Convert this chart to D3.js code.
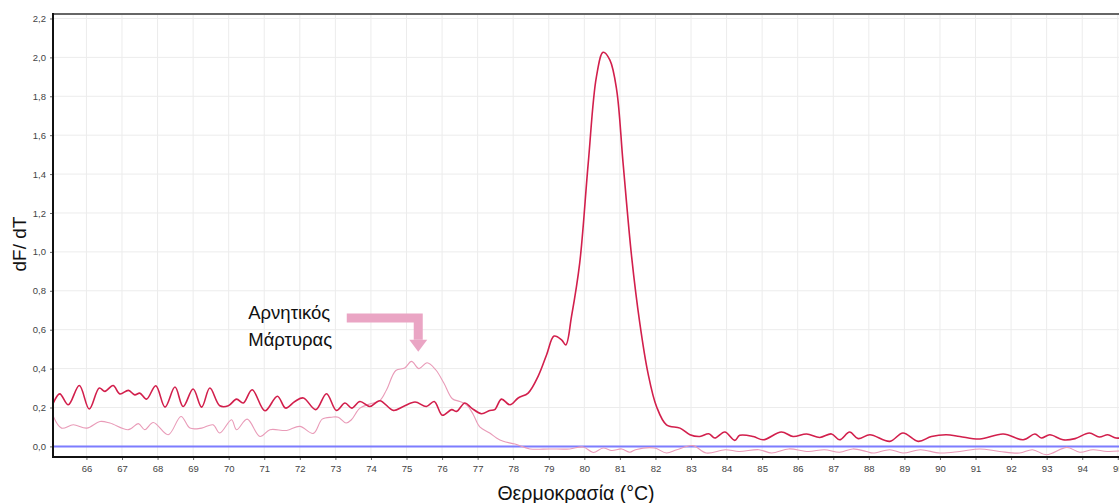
<!DOCTYPE html>
<html>
<head>
<meta charset="utf-8">
<script src="https://cdn.jsdelivr.net/npm/d3@7"></script>
<style>
  html, body { margin: 0; padding: 0; background: #fff; overflow: hidden; }
  text { font-family: "Liberation Sans", Arial, sans-serif; }
</style>
</head>
<body>
<script>
// melt curve: dF/dT vs temperature
const xTicks = d3.range(66, 96);
const yTicks = [0, 0.2, 0.4, 0.6, 0.8, 1.0, 1.2, 1.4, 1.6, 1.8, 2.0, 2.2];

// sample (red)
const sampleT = [65.07,65.25,65.49,65.80,66.08,66.36,66.52,66.75,66.94,67.18,67.36,67.50,67.69,67.95,68.21,68.49,68.72,69.00,69.24,69.47,69.75,69.99,70.22,70.41,70.66,71.02,71.37,71.60,71.86,72.10,72.45,72.75,73.03,73.27,73.46,73.69,73.97,74.25,74.63,74.91,75.24,75.56,75.78,76.01,76.27,76.41,76.64,76.83,77.11,77.34,77.48,77.67,77.91,78.14,78.42,78.70,78.94,79.15,79.36,79.48,79.64,79.87,80.11,80.34,80.53,80.72,80.91,81.09,81.33,81.56,81.79,82.03,82.31,82.69,82.97,83.25,83.50,83.67,83.95,84.23,84.37,84.75,85.03,85.54,85.87,86.25,86.62,86.95,87.18,87.46,87.70,88.03,88.59,88.96,89.39,89.76,90.18,90.56,91.12,91.78,92.34,92.67,92.85,93.09,93.46,93.80,94.20,94.48,94.72,94.95,95.30];
const sampleV = [0.223,0.27,0.214,0.313,0.192,0.30,0.283,0.313,0.27,0.288,0.265,0.274,0.243,0.312,0.202,0.305,0.205,0.295,0.202,0.30,0.209,0.209,0.243,0.223,0.291,0.183,0.258,0.197,0.231,0.249,0.189,0.271,0.185,0.223,0.197,0.231,0.205,0.235,0.185,0.205,0.228,0.205,0.231,0.16,0.189,0.18,0.223,0.197,0.168,0.185,0.189,0.243,0.214,0.249,0.274,0.36,0.471,0.567,0.548,0.522,0.668,0.942,1.456,1.90,2.026,1.986,1.832,1.456,0.976,0.634,0.377,0.205,0.111,0.094,0.06,0.051,0.065,0.043,0.074,0.031,0.057,0.051,0.034,0.074,0.051,0.064,0.046,0.064,0.034,0.074,0.04,0.06,0.026,0.069,0.026,0.051,0.06,0.051,0.038,0.064,0.034,0.064,0.043,0.06,0.034,0.04,0.069,0.048,0.06,0.043,0.05];

// negative control (pink)
const controlT = [65.07,65.30,65.63,66.01,66.38,66.66,67.18,67.46,67.64,67.88,68.30,68.66,68.91,69.24,69.56,69.75,70.08,70.22,70.52,70.88,71.16,71.63,72.00,72.38,72.63,72.90,73.08,73.30,73.45,73.69,74.00,74.25,74.44,74.70,74.95,75.14,75.35,75.58,75.82,76.05,76.29,76.50,76.71,76.88,77.06,77.34,77.53,77.72,78.05,78.47,79.03,79.59,79.97,80.25,80.53,80.77,81.05,81.28,81.44,81.97,82.31,82.60,83.05,83.43,83.96,84.35,84.91,85.27,85.75,86.30,86.75,87.18,87.55,87.93,88.12,88.59,88.96,89.45,90.00,90.56,91.12,91.68,92.24,92.60,93.00,93.57,93.93,94.30,94.70,95.30];
const controlV = [0.154,0.094,0.111,0.094,0.128,0.12,0.086,0.117,0.086,0.123,0.06,0.154,0.094,0.094,0.111,0.069,0.137,0.086,0.14,0.051,0.086,0.082,0.103,0.067,0.14,0.15,0.15,0.12,0.137,0.197,0.22,0.235,0.291,0.39,0.403,0.437,0.40,0.43,0.394,0.326,0.245,0.231,0.21,0.163,0.10,0.069,0.043,0.026,0.012,-0.013,-0.013,-0.013,-0.003,-0.031,-0.008,-0.021,-0.013,-0.03,-0.017,-0.008,-0.034,-0.017,0.004,-0.034,-0.017,-0.026,-0.017,-0.034,-0.013,-0.026,-0.017,-0.03,-0.013,-0.026,-0.034,-0.017,-0.034,-0.017,-0.034,-0.026,-0.013,-0.026,-0.034,-0.017,-0.043,-0.005,-0.03,-0.017,-0.026,-0.02];

const labelLines = ["Αρνητικός", "Μάρτυρας"];
// arrow path in data units: start, corner, tip
const arrowT = [73.32, 75.33, 75.33];
const arrowV = [0.66, 0.66, 0.487];

const width = 1119, height = 503;
const plot = { left: 53, top: 14, right: 1132, bottom: 457 };

const x = d3.scaleLinear().domain([65.06, 95.4]).range([plot.left, plot.right]);
const y = d3.scaleLinear().domain([-0.0545, 2.223]).range([plot.bottom, plot.top]);

const svg = d3.select("body").append("svg")
  .attr("width", width)
  .attr("height", height);

// grid
const grid = svg.append("g");
grid.selectAll("line.v").data(xTicks).enter().append("line")
  .attr("x1", d => x(d)).attr("x2", d => x(d))
  .attr("y1", plot.top).attr("y2", plot.bottom)
  .attr("stroke", "#ececec").attr("stroke-width", 1);
grid.selectAll("line.h").data(yTicks).enter().append("line")
  .attr("x1", plot.left).attr("x2", plot.right)
  .attr("y1", d => y(d)).attr("y2", d => y(d))
  .attr("stroke", "#ececec").attr("stroke-width", 1);

// zero baseline (blue)
svg.append("line")
  .attr("x1", plot.left).attr("x2", plot.right)
  .attr("y1", y(0)).attr("y2", y(0))
  .attr("stroke", "#7d7dff").attr("stroke-width", 2);

const line = d3.line()
  .x(d => x(d[0])).y(d => y(d[1]))
  .curve(d3.curveCatmullRom.alpha(0.5));

svg.append("defs").append("clipPath").attr("id", "clip")
  .append("rect").attr("x", plot.left).attr("y", plot.top)
  .attr("width", plot.right - plot.left).attr("height", plot.bottom - plot.top);

svg.append("path")
  .datum(d3.zip(controlT, controlV))
  .attr("clip-path", "url(#clip)")
  .attr("fill", "none")
  .attr("stroke", "#e99bb8")
  .attr("stroke-width", 1.1)
  .attr("d", line);

svg.append("path")
  .datum(d3.zip(sampleT, sampleV))
  .attr("clip-path", "url(#clip)")
  .attr("fill", "none")
  .attr("stroke", "#d21f4c")
  .attr("stroke-width", 1.6)
  .attr("d", line);

// axes
const yAxis = d3.axisLeft(y).tickValues(yTicks).tickSize(3).tickSizeOuter(0)
  .tickFormat(d => d3.format(".1f")(d).replace(".", ","));
const gy = svg.append("g").attr("transform", `translate(${plot.left},0)`).call(yAxis);
gy.select(".domain").remove();
gy.selectAll("text").attr("font-size", 9.5).attr("fill", "#444").attr("dx", "-1");
gy.selectAll("line").attr("stroke", "#666");

const xAxis = d3.axisBottom(x).tickValues(xTicks).tickSize(3).tickSizeOuter(0)
  .tickFormat(d3.format("d"));
const gx = svg.append("g").attr("transform", `translate(0,${plot.bottom})`).call(xAxis);
gx.select(".domain").remove();
gx.selectAll("text").attr("font-size", 9.5).attr("fill", "#444").attr("dy", "0.9em");
gx.selectAll("line").attr("stroke", "#666");

// frame
svg.append("line").attr("x1", plot.left).attr("x2", plot.right)
  .attr("y1", plot.top).attr("y2", plot.top)
  .attr("stroke", "#666").attr("stroke-width", 2);
svg.append("line").attr("x1", plot.left).attr("x2", plot.left)
  .attr("y1", plot.top - 1).attr("y2", plot.bottom + 1)
  .attr("stroke", "#111").attr("stroke-width", 2);
svg.append("line").attr("x1", plot.left).attr("x2", plot.right)
  .attr("y1", plot.bottom).attr("y2", plot.bottom)
  .attr("stroke", "#111").attr("stroke-width", 2);

// axis titles
svg.append("text")
  .attr("transform", `translate(26,244) rotate(-90)`)
  .attr("text-anchor", "middle")
  .attr("font-size", 19).attr("fill", "#111")
  .text("dF/ dT");

svg.append("text")
  .attr("x", 576).attr("y", 500)
  .attr("text-anchor", "middle")
  .attr("font-size", 19.5).attr("fill", "#111")
  .text("Θερμοκρασία (°C)");

// annotation
const arrowColor = "#eaa5c4";
const pts = d3.zip(arrowT, arrowV).map(d => [x(d[0]), y(d[1])]);
const headLen = 12;
svg.append("path")
  .attr("d", d3.line()([pts[0], pts[1], [pts[2][0], pts[2][1] - headLen]]))
  .attr("fill", "none")
  .attr("stroke", arrowColor)
  .attr("stroke-width", 9)
  .attr("stroke-linejoin", "miter");
svg.append("path")
  .attr("d", d3.line()([
    [pts[2][0] - 9, pts[2][1] - headLen],
    [pts[2][0] + 9, pts[2][1] - headLen],
    [pts[2][0], pts[2][1]]
  ]) + "Z")
  .attr("fill", arrowColor);

svg.append("g").selectAll("text").data(labelLines).enter().append("text")
  .attr("x", x(70.55))
  .attr("y", (d, i) => y(0.655) + i * 27)
  .attr("font-size", 18.5).attr("fill", "#111")
  .text(d => d);
</script>
</body>
</html>
